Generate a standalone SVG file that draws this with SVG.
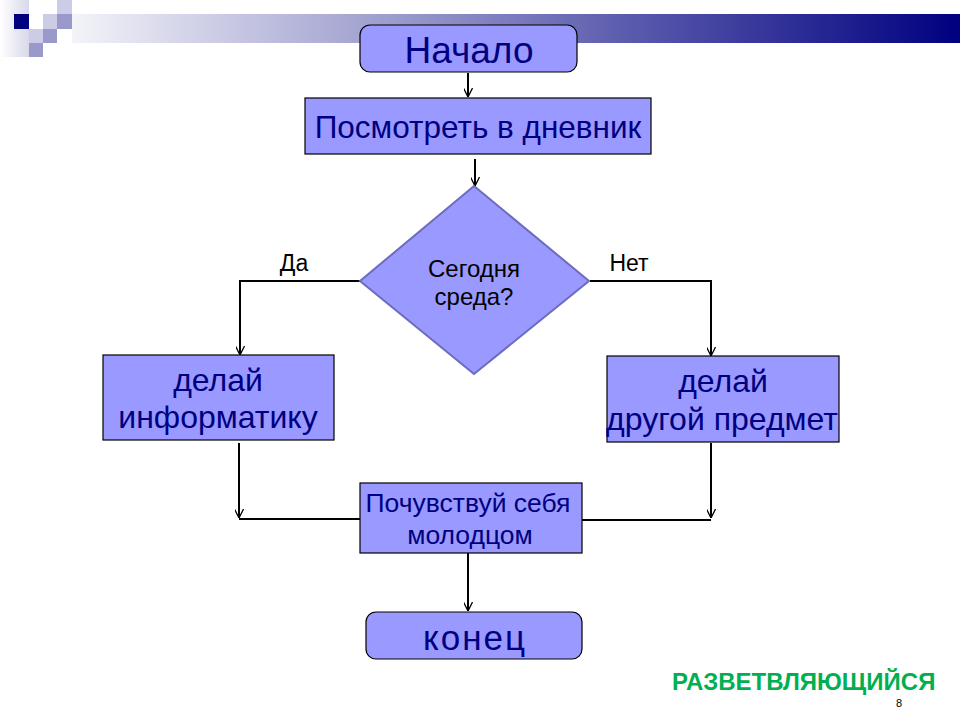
<svg xmlns="http://www.w3.org/2000/svg" width="960" height="720" viewBox="0 0 960 720">
  <defs>
    <linearGradient id="bar" x1="30" y1="0" x2="960" y2="0" gradientUnits="userSpaceOnUse">
      <stop offset="0" stop-color="#ffffff"/>
      <stop offset="1" stop-color="#000080"/>
    </linearGradient>
    <linearGradient id="fade" x1="0" y1="0" x2="1" y2="0">
      <stop offset="0" stop-color="#ffffff"/>
      <stop offset="1" stop-color="#d8d8ea"/>
    </linearGradient>
    <marker id="arr" viewBox="0 0 10 10" refX="10" refY="5" markerWidth="9" markerHeight="9" markerUnits="userSpaceOnUse" orient="auto">
      <path d="M0,0 L10,5 L0,10" fill="none" stroke="#000" stroke-width="1.4"/>
    </marker>
    <style>
      .box { fill: #9999ff; stroke: #000; stroke-width: 1.2; }
      .dia { fill: #9999ff; stroke: #6c6cbf; stroke-width: 2; }
      .nv { fill: #000080; font-family: "Liberation Sans", Arial, sans-serif; text-anchor: middle; }
      .bk { fill: #000; font-family: "Liberation Sans", Arial, sans-serif; text-anchor: middle; }
      .ln { fill: none; stroke: #000; stroke-width: 2; }
    </style>
  </defs>

  <g id="decor">
    <rect x="72" y="14" width="888" height="29" fill="url(#bar)"/>
    <rect x="0" y="0" width="29" height="57" fill="url(#fade)"/>
    <rect x="14" y="14" width="15" height="15" fill="#000080"/>
    <rect x="29" y="14" width="14" height="15" fill="#ffffff"/>
    <rect x="43" y="14" width="14" height="15" fill="#ccccE6"/>
    <rect x="57" y="14" width="15" height="15" fill="#9999cc"/>
    <rect x="57" y="0" width="15" height="14" fill="#ccccE6"/>
    <rect x="29" y="29" width="14" height="14" fill="#ccccE6"/>
    <rect x="43" y="29" width="14" height="14" fill="#9999cc"/>
    <rect x="29" y="43" width="14" height="14" fill="#9999cc"/>
  </g>

  <g id="connectors">
    <line class="ln" x1="468" y1="73" x2="468" y2="97" marker-end="url(#arr)"/>
    <line class="ln" x1="475" y1="159" x2="475" y2="186" marker-end="url(#arr)"/>
    <polyline class="ln" points="360,281 240,281 240,355" marker-end="url(#arr)"/>
    <polyline class="ln" points="590,281 711,281 711,356" marker-end="url(#arr)"/>
    <line class="ln" x1="239" y1="443" x2="239" y2="518" marker-end="url(#arr)"/>
    <line class="ln" x1="239" y1="519" x2="360" y2="519"/>
    <line class="ln" x1="711" y1="443" x2="711" y2="518" marker-end="url(#arr)"/>
    <line class="ln" x1="582" y1="520" x2="711" y2="520"/>
    <line class="ln" x1="468" y1="553" x2="468" y2="611" marker-end="url(#arr)"/>
  </g>

  <g id="start">
    <rect class="box" x="360" y="25" width="217" height="47" rx="10" ry="10"/>
    <text class="nv" x="469" y="63" font-size="37">Начало</text>
  </g>

  <g id="look">
    <rect class="box" x="305" y="98" width="346" height="56"/>
    <text class="nv" x="478" y="138" font-size="31.5">Посмотреть в дневник</text>
  </g>

  <g id="decision">
    <polygon class="dia" points="474,186 589,281 474,374 360,281"/>
    <text class="bk" x="474" y="277" font-size="24">Сегодня</text>
    <text class="bk" x="474" y="305" font-size="24">среда?</text>
  </g>

  <g id="labels">
    <text class="bk" x="294" y="271" font-size="23">Да</text>
    <text class="bk" x="629" y="271" font-size="23">Нет</text>
  </g>

  <g id="informatics">
    <rect class="box" x="103" y="355" width="231" height="85"/>
    <text class="nv" x="218" y="391" font-size="32">делай</text>
    <text class="nv" x="218" y="428" font-size="32">информатику</text>
  </g>

  <g id="other">
    <rect class="box" x="607" y="356" width="232" height="86"/>
    <text class="nv" x="723" y="392" font-size="32">делай</text>
    <text class="nv" x="722" y="430" font-size="32">другой предмет</text>
  </g>

  <g id="feel">
    <rect class="box" x="360" y="483" width="222" height="70"/>
    <text class="nv" x="468" y="512" font-size="26.5">Почувствуй себя</text>
    <text class="nv" x="470" y="544" font-size="26.5">молодцом</text>
  </g>

  <g id="end">
    <rect class="box" x="366" y="612" width="216" height="47" rx="10" ry="10"/>
    <text class="nv" x="475" y="650" font-size="35" letter-spacing="2">конец</text>
  </g>

  <g id="footer">
    <text x="672" y="690" font-family="Liberation Sans, Arial, sans-serif" font-size="24" font-weight="bold" fill="#00b050">РАЗВЕТВЛЯЮЩИЙСЯ</text>
    <text x="899" y="707" font-family="Liberation Sans, Arial, sans-serif" font-size="11" fill="#000" text-anchor="middle">8</text>
  </g>
</svg>
